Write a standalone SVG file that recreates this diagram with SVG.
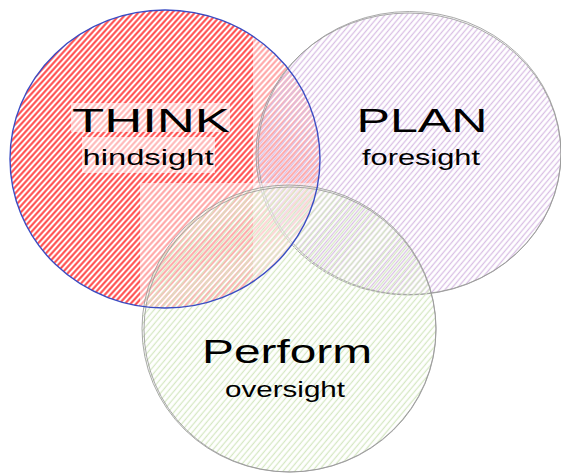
<svg xmlns="http://www.w3.org/2000/svg" width="561" height="474" viewBox="0 0 561 474">
<defs>
<pattern id="hRed" width="4.2" height="4.2" patternUnits="userSpaceOnUse" patternTransform="rotate(-48)">
<line x1="0" y1="2.1" x2="4.2" y2="2.1" stroke="#ff4545" stroke-width="2"/>
</pattern>
<pattern id="hPur" width="4.2" height="4.2" patternUnits="userSpaceOnUse" patternTransform="rotate(-50)">
<line x1="0" y1="2.1" x2="4.2" y2="2.1" stroke="#d9bfe4" stroke-width="1.3"/>
</pattern>
<pattern id="hGrn" width="4.5" height="4.5" patternUnits="userSpaceOnUse" patternTransform="rotate(-50)">
<line x1="0" y1="2.2" x2="4.5" y2="2.2" stroke="#d6e8c4" stroke-width="1.3"/>
</pattern>
<clipPath id="redClip">
<ellipse cx="165" cy="159" rx="156" ry="150"/>
</clipPath>
</defs>
<style>
.edge{fill:none;stroke:#9a9a9a;stroke-width:1;stroke-opacity:0.85}
.wash{fill:#ffffff;fill-opacity:0.5}
.lbl{fill:#000;font-family:"Liberation Sans","DejaVu Sans",sans-serif;text-anchor:middle}
.big{font-size:34px}
.small{font-size:22px}
.tbg{fill:#ffffff;fill-opacity:0.6}
</style>
<rect width="561" height="474" fill="#ffffff"/>
<g id="think">
<ellipse cx="165" cy="159" rx="155" ry="149" fill="url(#hRed)"/>
</g>
<g id="plan">
<rect class="wash" x="253" y="13" width="308" height="284" clip-path="url(#redClip)"/>
<ellipse cx="408.5" cy="154" rx="152.5" ry="141" fill="url(#hPur)"/>
<ellipse class="edge" cx="408.5" cy="154" rx="152.5" ry="141"/>
<ellipse class="edge" cx="409.5" cy="153" rx="151.5" ry="141.5"/>
<text class="lbl big" x="422" y="132" textLength="131" lengthAdjust="spacingAndGlyphs">PLAN</text>
<text class="lbl small" x="421" y="165" textLength="118" lengthAdjust="spacingAndGlyphs">foresight</text>
</g>
<g id="perform">
<rect class="wash" x="140" y="183" width="300" height="291" clip-path="url(#redClip)"/>
<ellipse cx="289" cy="328.5" rx="147" ry="143.5" fill="url(#hGrn)"/>
<ellipse class="edge" cx="289" cy="328.5" rx="147" ry="143.5"/>
<ellipse class="edge" cx="290" cy="329.5" rx="146" ry="142.5"/>
<text class="lbl big" x="287" y="363" textLength="170" lengthAdjust="spacingAndGlyphs">Perform</text>
<text class="lbl small" x="285" y="397" textLength="120" lengthAdjust="spacingAndGlyphs">oversight</text>
</g>
<g id="think-label">
<ellipse cx="165" cy="159" rx="155" ry="149" fill="none" stroke="#3a4cc4" stroke-width="1.4"/>
<rect class="tbg" x="71" y="103" width="159" height="29"/>
<rect class="tbg" x="82" y="137" width="133" height="36"/>
<text class="lbl big" x="151" y="132" textLength="158" lengthAdjust="spacingAndGlyphs">THINK</text>
<text class="lbl small" x="148" y="165" textLength="131" lengthAdjust="spacingAndGlyphs">hindsight</text>
</g>
</svg>
